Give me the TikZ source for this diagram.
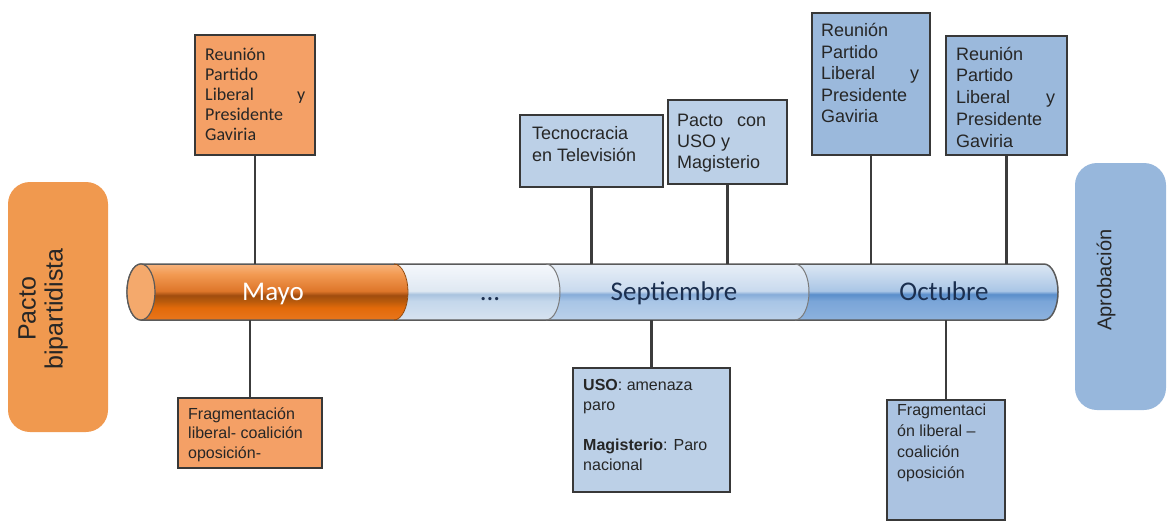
\documentclass[tikz,border=0pt]{standalone}
\usepackage{fontspec}
\setmainfont{Liberation Sans}
\newfontfamily\calib{Carlito}
\usetikzlibrary{calc}
\definecolor{lineg}{HTML}{3C3C3C}
\definecolor{bordg}{HTML}{383838}
\definecolor{oboxc}{HTML}{F4A066}
\definecolor{bigor}{HTML}{F0994F}
\definecolor{bigbl}{HTML}{97B7DC}
\definecolor{blight}{HTML}{BCD0E7}
\definecolor{bmid}{HTML}{ABC3E1}
\definecolor{bdark}{HTML}{9BB9DC}
\definecolor{navy}{HTML}{1B2F4F}
\definecolor{tubeline}{HTML}{5A5A5A}
% orange tube
\definecolor{or0}{HTML}{F7B47E}
\definecolor{or1}{HTML}{F29A52}
\definecolor{or2}{HTML}{DE762A}
\definecolor{or3}{HTML}{A04C0E}
\definecolor{or4}{HTML}{B85A0C}
\definecolor{or5}{HTML}{E26A0A}
\definecolor{or6}{HTML}{E8761C}
% blue tubes
\definecolor{ba0}{HTML}{F5F8FC}
\definecolor{ba1}{HTML}{DFE8F2}
\definecolor{ba2}{HTML}{A9C3DF}
\definecolor{ba3}{HTML}{C4D7EB}
\definecolor{ba4}{HTML}{D7E3F0}
\definecolor{bb0}{HTML}{E8EFF7}
\definecolor{bb1}{HTML}{C9DAEE}
\definecolor{bb2}{HTML}{86ACD8}
\definecolor{bb3}{HTML}{A8C5E6}
\definecolor{bb4}{HTML}{BBD1EA}
\definecolor{bc0}{HTML}{DCE7F3}
\definecolor{bc1}{HTML}{AAC6E6}
\definecolor{bc2}{HTML}{5A8ECB}
\definecolor{bc3}{HTML}{7AA5D8}
\definecolor{bc4}{HTML}{8DB2DE}
\pgfdeclareverticalshading{tubeor}{100bp}{color(0bp)=(or6); color(25bp)=(or6); color(36bp)=(or5); color(42bp)=(or4); color(47bp)=(or3); color(51bp)=(or2); color(66bp)=(or1); color(75bp)=(or0); color(100bp)=(or0)}
\pgfdeclareverticalshading{tubea}{100bp}{color(0bp)=(ba4); color(25bp)=(ba4); color(42bp)=(ba3); color(48bp)=(ba2); color(51bp)=(ba1); color(75bp)=(ba0); color(100bp)=(ba0)}
\pgfdeclareverticalshading{tubeb}{100bp}{color(0bp)=(bb4); color(25bp)=(bb4); color(42bp)=(bb3); color(48bp)=(bb2); color(51bp)=(bb1); color(75bp)=(bb0); color(100bp)=(bb0)}
\pgfdeclareverticalshading{tubec}{100bp}{color(0bp)=(bc4); color(25bp)=(bc4); color(42bp)=(bc3); color(48bp)=(bc2); color(51bp)=(bc1); color(75bp)=(bc0); color(100bp)=(bc0)}
\newcommand\boxtext[2]{\parbox[t]{#1}{\raggedright #2}}
\begin{document}
\begin{tikzpicture}[x=1pt,y=-1pt,
  conn/.style={draw=lineg, line width=2.4pt},
  evbox/.style={draw=bordg, line width=2.4pt, inner sep=0pt},
  txt/.style={anchor=base west, inner sep=0pt},
  big/.style={rounded corners=22pt, inner sep=0pt},
  tubelabel/.style={anchor=base, font=\calib\fontsize{27}{30}\selectfont},
  er/.style={x radius=14, y radius=28}
]
\useasboundingbox (0,0) rectangle (1169,527);

% side boxes
\node[big, fill=bigor, minimum width=100, minimum height=250] (lbox) at (58,307) {};
\node[rotate=90, align=center, text=black!85, font=\fontsize{25}{27}\selectfont] (lboxt) at (43,309) {Pacto\\bipartidista};
\node[big, fill=bigbl, minimum width=91, minimum height=247] (rbox) at (1120.5,286.5) {};
\node[rotate=90, text=black!85, font=\fontsize{20}{24}\selectfont] (rboxt) at (1106,280) {Aprobación};

% tube
\shade[shading=tubeor] (141,264) -- (394,264) arc[start angle=-90,end angle=90,er] -- (141,320) arc[start angle=90,end angle=270,er] -- cycle;
\shade[shading=tubea] (394,264) -- (546,264) arc[start angle=-90,end angle=90,er] -- (394,320) arc[start angle=90,end angle=-90,er] -- cycle;
\shade[shading=tubeb] (546,264) -- (795,264) arc[start angle=-90,end angle=90,er] -- (546,320) arc[start angle=90,end angle=-90,er] -- cycle;
\shade[shading=tubec] (795,264) -- (1044,264) arc[start angle=-90,end angle=90,er] -- (795,320) arc[start angle=90,end angle=-90,er] -- cycle;
\draw[draw=tubeline, line width=1.5pt] (141,264) -- (1044,264) arc[start angle=-90,end angle=90,er] -- (141,320) arc[start angle=90,end angle=270,er] -- cycle;
\draw[draw=or4!80!black, line width=0.8pt] (394,264) arc[start angle=-90,end angle=90,er];
\draw[draw=tubeline!80, line width=1pt] (546,264) arc[start angle=-90,end angle=90,er];
\draw[draw=tubeline!80, line width=1pt] (795,264) arc[start angle=-90,end angle=90,er];
\draw[draw=tubeline, line width=1.2pt, fill=or1!85!white] (141,292) ellipse[er];
\coordinate (ttop) at (0,264);
\coordinate (tbot) at (0,320);

\node[tubelabel, text=white] (may) at (273,300) {Mayo};
\node[tubelabel, text=navy] (dots) at (490,300) {...};
\node[tubelabel, text=navy] (sep) at (674,300) {Septiembre};
\node[tubelabel, text=navy] (oct) at (944,300) {Octubre};

% event boxes
\node[evbox, fill=oboxc, minimum width=120, minimum height=120] (r1) at (255,95) {};
\node[txt, font=\calib\fontsize{18}{20}\selectfont, text=black!85] (r1t) at (205,60) {\boxtext{100pt}{Reunión\\Partido\\Liberal\hfill y\\Presidente\\Gaviria}};

\node[evbox, fill=oboxc, minimum width=144, minimum height=70] (f1) at (250,433) {};
\node[txt, font=\fontsize{16}{19.5}\selectfont, text=black!85] (f1t) at (188,419) {\boxtext{130pt}{Fragmentación\\liberal- coalición\\oposición-}};

\node[evbox, fill=blight, minimum width=143, minimum height=72] (tec) at (591.5,151) {};
\node[txt, font=\fontsize{18}{22}\selectfont, text=black!85] (tect) at (532,139) {\boxtext{125pt}{Tecnocracia\\en Televisión}};

\node[evbox, fill=blight, minimum width=119, minimum height=84] (pac) at (727.5,142) {};
\node[txt, font=\fontsize{18}{21}\selectfont, text=black!85] (pact) at (677,126) {\boxtext{89pt}{Pacto\hfill con\\USO y\\Magisterio}};

\node[evbox, fill=bdark, minimum width=118, minimum height=142] (r3) at (871,84) {};
\node[txt, font=\fontsize{18}{21.5}\selectfont, text=black!85] (r3t) at (821,37) {\boxtext{98pt}{Reunión\\Partido\\Liberal\hfill y\\Presidente\\Gaviria}};

\node[evbox, fill=bdark, minimum width=121, minimum height=119] (r4) at (1006.5,95.5) {};
\node[txt, font=\fontsize{18}{21.75}\selectfont, text=black!85] (r4t) at (956,60) {\boxtext{99pt}{Reunión\\Partido\\Liberal\hfill y\\Presidente\\Gaviria}};

\node[evbox, fill=blight, minimum width=157, minimum height=124] (uso) at (651.5,430) {};
\node[txt, font=\fontsize{16}{20}\selectfont, text=black!85] (usot) at (583,390) {\boxtext{140pt}{\textbf{USO}: amenaza\\paro\\[20pt]\textbf{Magisterio}: Paro\\nacional}};

\node[evbox, fill=bmid, minimum width=118, minimum height=120] (fr) at (946,460) {};
\node[txt, font=\fontsize{16}{21.3}\selectfont, text=black!85] (frt) at (897,415) {\boxtext{105pt}{Fragmentaci\\ón liberal –\\coalición\\oposición}};

% connectors
\draw[conn] (r1.south) -- (r1.south |- ttop);
\draw[conn] (tec.south) -- (tec.south |- ttop);
\draw[conn] (pac.south) -- (pac.south |- ttop);
\draw[conn] (r3.south) -- (r3.south |- ttop);
\draw[conn] (r4.south) -- (r4.south |- ttop);
\draw[conn] (f1.north) -- (f1.north |- tbot);
\draw[conn] (uso.north) -- (uso.north |- tbot);
\draw[conn] (fr.north) -- (fr.north |- tbot);
\end{tikzpicture}
\end{document}
